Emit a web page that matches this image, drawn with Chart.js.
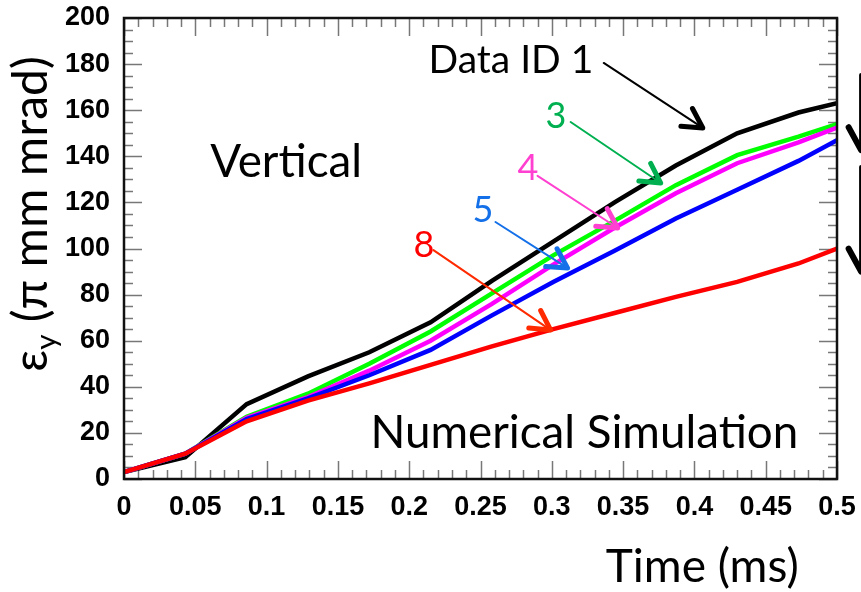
<!DOCTYPE html>
<html>
<head>
<meta charset="utf-8">
<script src="https://cdn.jsdelivr.net/npm/chart.js@4.4.1/dist/chart.umd.min.js"></script>
<style>
html,body{margin:0;padding:0;background:#fff;}
#wrap{width:861px;height:592px;position:relative;}
</style>
</head>
<body>
<div id="wrap"><canvas id="c" width="861" height="592"></canvas></div>
<script>
// ---- data ----
const times = [0, 0.043, 0.086, 0.129, 0.172, 0.215, 0.258, 0.301, 0.344, 0.387, 0.430, 0.473, 0.5];
const id1 = [3, 9.5, 32.5, 44.5, 55, 68, 86, 103, 120, 136, 150, 159, 163];
const id3 = [3, 11, 27, 37, 50, 64, 80.5, 97, 112, 127.5, 140.5, 148.5, 154];
const id4 = [3, 11, 26.5, 35.5, 47, 60, 76, 93, 109, 124, 137, 146, 152.5];
const id5 = [3, 11, 26, 35, 45, 56, 71, 85.5, 99, 113, 125.5, 138, 147];
const id8 = [3, 11, 25, 34, 41.5, 49.5, 57.5, 65, 72, 79, 85.5, 93.5, 100];
const seriesNames = ['Data ID 1', 'Data ID 3', 'Data ID 4', 'Data ID 5', 'Data ID 8'];
const xTickLabels = ['0','0.05','0.1','0.15','0.2','0.25','0.3','0.35','0.4','0.45','0.5'];
const yTickLabels = ['0','20','40','60','80','100','120','140','160','180','200'];

// ---- annotations (positions in data units) ----
const textNotes = [
  {text:'Data ID 1', t:0.2135, v:176.1, size:36, w:165, color:'#000000'},
  {text:'3', t:0.2956, v:152.3, size:36, color:'#00b050'},
  {text:'4', t:0.276, v:129.7, size:36, color:'#ff40d0'},
  {text:'5', t:0.2444, v:111.5, size:36, color:'#1470e8'},
  {text:'8', t:0.203, v:96.3, size:36, color:'#ff0000'},
  {text:'Vertical', t:0.0604, v:131, size:42, w:152, color:'#000000'},
  {text:'Numerical Simulation', t:0.1728, v:13.4, size:38, w:428, color:'#000000'},
  {text:'Time (ms)', t:0.3378, v:-44.7, size:42, w:193, color:'#000000'}
];
const arrowNotes = [
  {t0:0.3364, v0:180.5, t1:0.4059, v1:152.3, color:'#000000'},
  {t0:0.3132, v0:154.9, t1:0.3764, v1:128.4, color:'#00b050'},
  {t0:0.2900, v0:131.5, t1:0.3462, v1:108.9, color:'#ff40d0'},
  {t0:0.2605, v0:111.5, t1:0.3111, v1:91.5, color:'#1470e8'},
  {t0:0.2170, v0:99.3, t1:0.2992, v1:64.6, color:'#ff2a00'},
  {t0:0.5169, v0:175.3, t1:0.5169, v1:142.7, color:'#000000', big:true},
  {t0:0.5169, v0:135.4, t1:0.5169, v1:90.0, color:'#000000', big:true}
];

const FONT_TXT = 'Lato, "Open Sans", sans-serif';

const colors = ['#000000', '#00ff00', '#ff00ff', '#0000ff', '#ff0000'];
const vals = [id1, id3, id4, id5, id8];
const datasets = vals.map((arr, i) => ({
  label: seriesNames[i],
  data: times.map((t, k) => ({x: t, y: arr[k]})),
  borderColor: colors[i],
  backgroundColor: colors[i],
  borderWidth: 4.5,
  pointRadius: 0,
  tension: 0,
  fill: false,
  order: 5 - i
}));

const framePlugin = {
  id: 'frame',
  beforeDatasetsDraw(chart) {
    const {ctx, chartArea: a, scales: {x, y}} = chart;
    ctx.save();
    ctx.strokeStyle = '#777';
    ctx.lineWidth = 1.5;
    ctx.beginPath();
    for (let i = 0; i <= 50; i++) {
      const px = Math.round(x.getPixelForValue(i * 0.01)) + 0.5;
      const len = (i % 5 === 0) ? 18 : 9;
      ctx.moveTo(px, a.bottom); ctx.lineTo(px, a.bottom - len);
      ctx.moveTo(px, a.top); ctx.lineTo(px, a.top + len);
    }
    for (let i = 0; i <= 40; i++) {
      const py = Math.round(y.getPixelForValue(i * 5)) + 0.5;
      const len = (i % 4 === 0) ? 18 : 9;
      ctx.moveTo(a.left, py); ctx.lineTo(a.left + len, py);
      ctx.moveTo(a.right, py); ctx.lineTo(a.right - len, py);
    }
    ctx.stroke();
    ctx.restore();
  },
  afterDatasetsDraw(chart) {
    const {ctx, chartArea: a, scales: {x, y}} = chart;
    ctx.save();
    ctx.strokeStyle = '#111';
    ctx.lineWidth = 2.5;
    ctx.strokeRect(a.left, a.top, a.right - a.left, a.bottom - a.top);

    // texts
    ctx.textBaseline = 'alphabetic';
    ctx.textAlign = 'left';
    textNotes.forEach(n => {
      let s = n.size;
      ctx.font = s + 'px ' + FONT_TXT;
      if (n.w) {
        const m = ctx.measureText(n.text).width;
        s = s * n.w / m;
        ctx.font = s.toFixed(2) + 'px ' + FONT_TXT;
      }
      ctx.fillStyle = n.color;
      ctx.fillText(n.text, x.getPixelForValue(n.t), y.getPixelForValue(n.v));
    });

    // arrows
    ctx.lineCap = 'round';
    ctx.lineJoin = 'round';
    arrowNotes.forEach(n => {
      const x0 = x.getPixelForValue(n.t0), y0 = y.getPixelForValue(n.v0);
      const x1 = x.getPixelForValue(n.t1), y1 = y.getPixelForValue(n.v1);
      ctx.strokeStyle = n.color;
      ctx.lineWidth = n.big ? 4 : 2;
      ctx.beginPath(); ctx.moveTo(x0, y0); ctx.lineTo(x1, y1); ctx.stroke();
      const ang = Math.atan2(y1 - y0, x1 - x0);
      const L = n.big ? 26 : 22, da = 0.5;
      ctx.lineWidth = n.big ? 6 : 5;
      ctx.beginPath();
      ctx.moveTo(x1 - L * Math.cos(ang - da), y1 - L * Math.sin(ang - da));
      ctx.lineTo(x1, y1);
      ctx.lineTo(x1 - L * Math.cos(ang + da), y1 - L * Math.sin(ang + da));
      ctx.stroke();
    });

    // y-axis title: εy (π mm mrad)
    const cx = x.getPixelForValue(-0.0555), cy = y.getPixelForValue(115);
    const S = 48;
    ctx.fillStyle = '#000';
    ctx.translate(cx, cy);
    ctx.rotate(-Math.PI / 2);
    ctx.font = S + 'px ' + FONT_TXT;
    const wE = ctx.measureText('\u03b5').width;
    const rest = ' (\u03c0 mm mrad)';
    const wR = ctx.measureText(rest).width;
    ctx.font = (S * 0.62) + 'px ' + FONT_TXT;
    const wY = ctx.measureText('y').width;
    const total = wE + wY + wR;
    let sx = -total / 2;
    const base = 2;
    ctx.font = S + 'px ' + FONT_TXT;
    ctx.fillText('\u03b5', sx, base);
    sx += wE;
    ctx.font = (S * 0.62) + 'px ' + FONT_TXT;
    ctx.fillText('y', sx, base + S * 0.2);
    sx += wY;
    ctx.font = S + 'px ' + FONT_TXT;
    ctx.fillText(rest, sx, base);
    ctx.restore();
  }
};

new Chart(document.getElementById('c'), {
  type: 'line',
  data: {datasets},
  options: {
    responsive: false,
    devicePixelRatio: 1,
    animation: false,
    layout: {padding: {left: 0, top: 18, right: 24, bottom: 0}},
    plugins: {legend: {display: false}, tooltip: {enabled: false}},
    scales: {
      x: {
        type: 'linear', min: 0, max: 0.5,
        afterFit(s) { s.height = 113; s.paddingLeft = 0; s.paddingRight = 0; },
        afterBuildTicks(s) { s.ticks = xTickLabels.map((l, i) => ({value: i * 0.05})); },
        ticks: {
          autoSkip: false, maxRotation: 0, padding: 12, color: '#000',
          font: {family: '"Liberation Sans", Arial, sans-serif', size: 27, weight: 'bold'},
          callback: (v, i) => xTickLabels[i]
        },
        grid: {display: false, drawTicks: false},
        border: {display: false}
      },
      y: {
        type: 'linear', min: 0, max: 200,
        afterFit(s) { s.width = 124; s.paddingTop = 0; s.paddingBottom = 0; },
        afterBuildTicks(s) { s.ticks = yTickLabels.map((l, i) => ({value: i * 20})); },
        ticks: {
          autoSkip: false, padding: 14, color: '#000',
          font: {family: '"Liberation Sans", Arial, sans-serif', size: 27, weight: 'bold'},
          callback: (v, i) => yTickLabels[i]
        },
        grid: {display: false, drawTicks: false},
        border: {display: false}
      }
    }
  },
  plugins: [framePlugin]
});
</script>
</body>
</html>
